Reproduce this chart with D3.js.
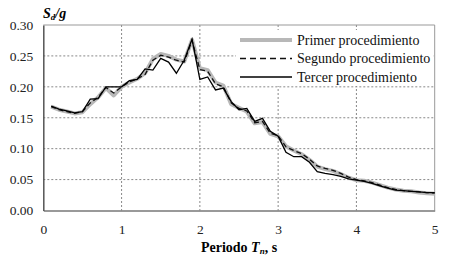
<!DOCTYPE html>
<html>
<head>
<meta charset="utf-8">
<script src="https://cdn.jsdelivr.net/npm/d3@7"></script>
<style>
  body { margin: 0; background: #fff; }
</style>
</head>
<body>
<svg id="chart"></svg>
<script>
// periods (s)
const periods = d3.range(1, 51).map(i => i / 10);

// Sd/g values, one per period
const primer = [0.168, 0.163, 0.160, 0.157, 0.159, 0.172, 0.183, 0.198, 0.186, 0.200,
  0.207, 0.213, 0.222, 0.245, 0.253, 0.250, 0.244, 0.241, 0.276, 0.230,
  0.227, 0.207, 0.202, 0.172, 0.166, 0.160, 0.141, 0.143, 0.124, 0.120,
  0.104, 0.097, 0.091, 0.082, 0.071, 0.067, 0.064, 0.059, 0.053, 0.049,
  0.048, 0.045, 0.041, 0.037, 0.034, 0.032, 0.031, 0.029, 0.028, 0.027];

const segundo = [0.168, 0.163, 0.160, 0.157, 0.160, 0.174, 0.183, 0.199, 0.190, 0.200,
  0.208, 0.213, 0.220, 0.243, 0.251, 0.248, 0.243, 0.240, 0.275, 0.228,
  0.225, 0.205, 0.200, 0.174, 0.165, 0.161, 0.142, 0.144, 0.125, 0.121,
  0.103, 0.097, 0.092, 0.083, 0.072, 0.068, 0.065, 0.060, 0.054, 0.050,
  0.048, 0.045, 0.041, 0.037, 0.034, 0.032, 0.031, 0.030, 0.029, 0.028];

const tercer = [0.169, 0.164, 0.161, 0.158, 0.160, 0.180, 0.181, 0.200, 0.200, 0.200,
  0.210, 0.212, 0.229, 0.227, 0.246, 0.240, 0.222, 0.243, 0.277, 0.212,
  0.216, 0.195, 0.198, 0.176, 0.163, 0.165, 0.144, 0.149, 0.128, 0.120,
  0.094, 0.087, 0.087, 0.078, 0.063, 0.060, 0.058, 0.055, 0.051, 0.049,
  0.047, 0.044, 0.040, 0.036, 0.033, 0.032, 0.031, 0.030, 0.029, 0.029];

const xTicks = [0, 1, 2, 3, 4, 5];
const yTicks = [0, 0.05, 0.10, 0.15, 0.20, 0.25, 0.30];
const legendNames = ["Primer procedimiento", "Segundo procedimiento", "Tercer procedimiento"];

const width = 450, height = 262;
const margin = { top: 25, right: 15, bottom: 51.5, left: 43.3 };
const w = 434.7 - margin.left;
const h = 210.5 - margin.top;
const serif = "'Liberation Serif'";

const svg = d3.select("#chart").attr("width", width).attr("height", height);
const chart = svg.append("g").attr("transform", `translate(${margin.left},${margin.top})`);

const x = d3.scaleLinear().domain([0, 5]).range([0, w]);
const y = d3.scaleLinear().domain([0, 0.30]).range([h, 0]);

// grid
chart.append("g").selectAll("line").data(yTicks.slice(1, -1)).join("line")
  .attr("x1", 0).attr("x2", w)
  .attr("y1", d => y(d)).attr("y2", d => y(d))
  .attr("stroke", "#888").attr("stroke-width", 1).attr("stroke-dasharray", "2,2");
chart.append("g").selectAll("line").data(xTicks.slice(1, -1)).join("line")
  .attr("x1", d => x(d)).attr("x2", d => x(d))
  .attr("y1", 0).attr("y2", h)
  .attr("stroke", "#888").attr("stroke-width", 1).attr("stroke-dasharray", "2,2");

// frame
chart.append("line").attr("x1", 0).attr("x2", w).attr("y1", 0).attr("y2", 0)
  .attr("stroke", "#999").attr("stroke-width", 1);
chart.append("line").attr("x1", w).attr("x2", w).attr("y1", 0).attr("y2", h)
  .attr("stroke", "#999").attr("stroke-width", 1);

// axes
const xAxis = d3.axisBottom(x).tickValues(xTicks).tickSize(0).tickPadding(14).tickFormat(d3.format("d"));
const yAxis = d3.axisLeft(y).tickValues(yTicks).tickSize(0).tickPadding(10).tickFormat(d3.format(".2f"));

const xAxisG = chart.append("g").attr("transform", `translate(0,${h})`).call(xAxis);
const yAxisG = chart.append("g").call(yAxis);
xAxisG.attr("font-family", serif).attr("font-size", 13.5);
yAxisG.attr("font-family", serif).attr("font-size", 13.5);
xAxisG.select(".domain").attr("stroke", "#777").attr("stroke-width", 1.5);
yAxisG.select(".domain").attr("stroke", "#555").attr("stroke-width", 1.5);
chart.selectAll(".tick text")
  .style("font-family", serif)
  .style("font-size", "13.5px").attr("fill", "#222");

// series
const line = vals => d3.line()
  .x((d, i) => x(periods[i]))
  .y(d => y(d))(vals);

chart.append("path").attr("d", line(primer))
  .attr("fill", "none").attr("stroke", "#b8b8b8").attr("stroke-width", 4)
  .attr("stroke-linejoin", "round");
chart.append("path").attr("d", line(segundo))
  .attr("fill", "none").attr("stroke", "#111").attr("stroke-width", 1.3)
  .attr("stroke-dasharray", "5,3");
chart.append("path").attr("d", line(tercer))
  .attr("fill", "none").attr("stroke", "#000").attr("stroke-width", 1.3);

// legend
const legend = svg.append("g").attr("transform", "translate(236,30)");
legend.append("rect").attr("width", 197).attr("height", 56).attr("fill", "#fff");
const styles = [
  { stroke: "#b8b8b8", sw: 4, dash: null },
  { stroke: "#111", sw: 1.5, dash: "6,4" },
  { stroke: "#000", sw: 1.5, dash: null }
];
legendNames.forEach((name, i) => {
  const cy = 10 + i * 18.5;
  legend.append("line").attr("x1", 4).attr("x2", 56).attr("y1", cy).attr("y2", cy)
    .attr("stroke", styles[i].stroke).attr("stroke-width", styles[i].sw)
    .attr("stroke-dasharray", styles[i].dash);
  legend.append("text").attr("x", 61).attr("y", cy + 4.5)
    .style("font-family", serif).style("font-size", "14px")
    .attr("fill", "#111").text(name);
});

// axis titles
const yt = svg.append("text").attr("x", 43).attr("y", 18)
  .style("font-family", serif).style("font-size", "14px")
  .attr("font-weight", "bold").attr("font-style", "italic");
yt.append("tspan").text("S");
yt.append("tspan").style("font-size", "9px").attr("dy", 2).text("d");
yt.append("tspan").attr("dy", -2).text("/g");

const xt = svg.append("text").attr("x", 239).attr("y", 252)
  .attr("text-anchor", "middle").style("font-family", serif).style("font-size", "14px")
  .attr("font-weight", "bold");
xt.append("tspan").text("Periodo ");
xt.append("tspan").attr("font-style", "italic").text("T");
xt.append("tspan").attr("font-style", "italic").style("font-size", "9px").attr("dy", 2).text("n");
xt.append("tspan").attr("dy", -2).text(", s");
</script>
</body>
</html>
